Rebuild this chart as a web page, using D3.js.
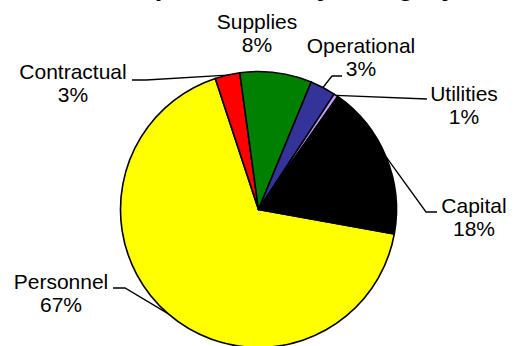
<!DOCTYPE html>
<html>
<head>
<meta charset="utf-8">
<script src="https://cdn.jsdelivr.net/npm/d3@7"></script>
<style>
  html, body { margin: 0; padding: 0; background: #fff; }
  svg { display: block; }
  text { font-family: Arial, "Liberation Sans", sans-serif; fill: #000; }
</style>
</head>
<body>
<svg id="chart" width="518" height="346"></svg>
<script>
// ---- data ----
const title = "Expenditures by Category";
const categories = ["Personnel", "Contractual", "Supplies", "Operational", "Utilities", "Capital"];
const values = [67.1, 2.9, 8.4, 3.0, 0.5, 18.1];
const percentLabels = ["67%", "3%", "8%", "3%", "1%", "18%"];
const colors = ["#FFFF00", "#FF0000", "#008000", "#333399", "#CC99FF", "#000000"];

// ---- layout (label placement, not data) ----
const cx = 258.5, cy = 209.5, r = 138;
const startDeg = 100.2;
const labelLayout = [
  { x: 61,  y: 289, leader: [[125, 288], [113, 288]] },
  { x: 73,  y: 79,  leader: [[146, 80], [132, 80]] },
  { x: 257, y: 29,  leader: null },
  { x: 361, y: 53,  leader: [[332, 76], [342, 76]] },
  { x: 464, y: 101, leader: [[427, 99]] },
  { x: 474, y: 213, leader: [[426, 212], [437, 212]] }
];

const svg = d3.select("#chart");

// title (mostly clipped above the top edge, as in the reference)
svg.append("text")
  .attr("x", 289).attr("y", -5.5)
  .attr("text-anchor", "middle")
  .style("font-weight", "bold")
  .style("font-size", "27px")
  .text(title);

const data = categories.map((c, i) => ({ name: c, value: values[i], pct: percentLabels[i], color: colors[i], i }));

const pie = d3.pie()
  .value(d => d.value)
  .sort(null)
  .startAngle(startDeg * Math.PI / 180)
  .endAngle(startDeg * Math.PI / 180 + 2 * Math.PI);

const arcs = pie(data);
const arc = d3.arc().innerRadius(0).outerRadius(r);

const g = svg.append("g").attr("transform", `translate(${cx},${cy})`);
g.selectAll("path.slice")
  .data(arcs)
  .join("path")
  .attr("class", "slice")
  .attr("d", arc)
  .attr("fill", d => d.data.color)
  .attr("stroke", "#000")
  .attr("stroke-width", 1.6)
  .attr("stroke-linejoin", "round");

// leader lines
arcs.forEach((a, i) => {
  const lay = labelLayout[i];
  if (!lay.leader) return;
  const mid = (a.startAngle + a.endAngle) / 2;
  const ex = cx + r * Math.sin(mid), ey = cy - r * Math.cos(mid);
  const pts = [[ex, ey]].concat(lay.leader);
  svg.append("path")
    .attr("d", d3.line()(pts))
    .attr("fill", "none")
    .attr("stroke", "#000")
    .attr("stroke-width", 1.3);
});

// labels
arcs.forEach((a, i) => {
  const lay = labelLayout[i];
  const t = svg.append("text")
    .attr("text-anchor", "middle")
    .style("font-size", "21px");
  t.append("tspan").attr("x", lay.x).attr("y", lay.y).text(a.data.name);
  t.append("tspan").attr("x", lay.x).attr("y", lay.y + 23).text(a.data.pct);
});
</script>
</body>
</html>
